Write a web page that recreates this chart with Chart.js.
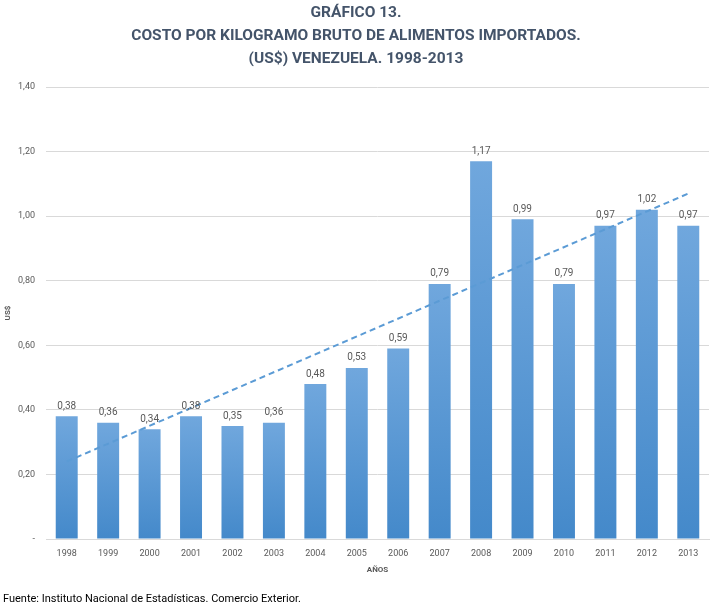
<!DOCTYPE html>
<html>
<head>
<meta charset="utf-8">
<script src="https://cdn.jsdelivr.net/npm/chart.js@4/dist/chart.umd.min.js"></script>
<style>
  html, body { margin: 0; padding: 0; background: #ffffff; }
  #wrap { width: 711px; height: 607px; position: relative; }
</style>
</head>
<body>
<div id="wrap"><canvas id="costChart"></canvas></div>
<script>
const years = ['1998', '1999', '2000', '2001', '2002', '2003', '2004', '2005',
  '2006', '2007', '2008', '2009', '2010', '2011', '2012', '2013'];
const costPerKg = [0.38, 0.36, 0.34, 0.38, 0.35, 0.36, 0.48, 0.53,
  0.59, 0.79, 1.17, 0.99, 0.79, 0.97, 1.02, 0.97];
// linear trendline, read at the first and last year
const trendEnds = [0.24, 1.07];
const titleLines = [
  'GRÁFICO 13.',
  'COSTO POR KILOGRAMO BRUTO DE ALIMENTOS IMPORTADOS.',
  '(US$) VENEZUELA. 1998-2013',
];
const sourceNote = 'Fuente: Instituto Nacional de Estadísticas. Comercio Exterior.';

const fontFamily = "Roboto, 'Liberation Sans', sans-serif";
const textColor = '#595959';
const gridColor = '#d9d9d9';

const fmt = (value) => value.toFixed(2).replace('.', ',');

const trendData = years.map((_y, i) => {
  if (i === 0) return trendEnds[0];
  if (i === years.length - 1) return trendEnds[1];
  return null;
});

const barFill = (context) => {
  const chart = context.chart;
  const yScale = chart.scales.y;
  if (!chart.chartArea || !yScale || !context.parsed) {
    return '#5b9bd5';
  }
  const top = yScale.getPixelForValue(context.parsed.y);
  const bottom = yScale.getPixelForValue(0);
  if (!isFinite(top) || !isFinite(bottom) || top === bottom) {
    return '#5b9bd5';
  }
  const gradient = chart.ctx.createLinearGradient(0, top, 0, bottom);
  gradient.addColorStop(0, '#70a7dd');
  gradient.addColorStop(1, '#4489ca');
  return gradient;
};

const valueLabels = {
  id: 'valueLabels',
  afterDatasetsDraw: (chart) => {
    const meta = chart.getDatasetMeta(1);
    const ctx = chart.ctx;
    ctx.save();
    ctx.font = `10px ${fontFamily}`;
    ctx.fillStyle = textColor;
    ctx.textAlign = 'center';
    ctx.textBaseline = 'bottom';
    meta.data.forEach((bar, index) => {
      ctx.fillText(fmt(costPerKg[index]), bar.x, bar.y - 5);
    });
    ctx.restore();
  },
};

new Chart(document.getElementById('costChart').getContext('2d'), {
  data: {
    labels: years,
    datasets: [
      {
        type: 'line',
        label: 'Tendencia',
        data: trendData,
        spanGaps: true,
        borderColor: '#5b9bd5',
        borderWidth: 2,
        borderDash: [6, 4],
        pointRadius: 0,
        fill: false,
        order: 0,
      },
      {
        type: 'bar',
        label: 'Costo',
        data: costPerKg,
        backgroundColor: barFill,
        borderWidth: 0,
        categoryPercentage: 1,
        barPercentage: 0.53,
        order: 1,
      },
    ],
  },
  options: {
    responsive: true,
    maintainAspectRatio: false,
    animation: false,
    layout: { padding: { left: 3, right: 2, top: 0, bottom: 0 } },
    plugins: {
      legend: { display: false },
      tooltip: { enabled: false },
      title: {
        display: true,
        text: titleLines,
        color: '#44546a',
        font: { family: fontFamily, size: 15.5, weight: 'bold', lineHeight: '23px' },
        padding: { top: 2, bottom: 16 },
      },
      subtitle: {
        display: true,
        position: 'bottom',
        align: 'start',
        text: sourceNote,
        color: '#000000',
        font: { family: fontFamily, size: 11 },
        padding: { top: 19, bottom: 1 },
      },
    },
    scales: {
      x: {
        grid: { display: false },
        border: { display: true, color: gridColor, width: 1 },
        ticks: {
          color: textColor,
          font: { family: fontFamily, size: 9 },
          padding: 1,
          maxRotation: 0,
        },
        title: {
          display: true,
          text: 'AÑOS',
          color: textColor,
          font: { family: fontFamily, size: 8, weight: 'bold', lineHeight: 1 },
          padding: { top: 6, bottom: 0 },
        },
      },
      y: {
        min: 0,
        max: 1.4,
        grid: { color: gridColor, drawTicks: false },
        border: { display: false },
        afterFit: (scale) => { scale.width = 43; },
        ticks: {
          stepSize: 0.2,
          color: textColor,
          font: { family: fontFamily, size: 9 },
          padding: 11,
          callback: (value) => (value === 0 ? '-' : fmt(value)),
        },
        title: {
          display: true,
          text: 'US$',
          color: textColor,
          font: { family: fontFamily, size: 8, weight: 'bold' },
          padding: 0,
        },
      },
    },
  },
  plugins: [valueLabels],
});
</script>
</body>
</html>
